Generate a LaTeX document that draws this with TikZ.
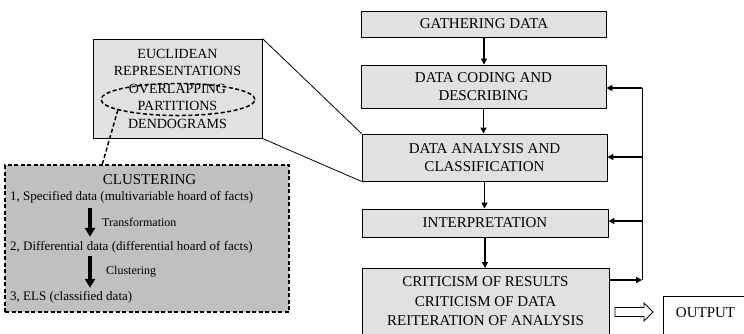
\documentclass[tikz,border=0pt]{standalone}
\usepackage{fontspec}
\setmainfont{Liberation Serif}
\usetikzlibrary{arrows.meta,shapes.geometric}
\definecolor{lgray}{RGB}{225,225,225}
\definecolor{dgray}{RGB}{192,192,192}
\begin{document}
\begin{tikzpicture}[x=1pt,y=-1pt,
  rbox/.style={draw, line width=0.9pt, fill=lgray, inner sep=0pt, align=center,
    font=\fontsize{15}{18}\selectfont, minimum width=245pt},
  flow/.style={line width=1.5pt, -{Triangle[length=6pt,width=6pt]}},
  fb/.style={line width=1.6pt, -{Triangle[length=6pt,width=6pt]}},
  dsh/.style={line width=1.5pt, dash pattern=on 4pt off 2.5pt},
  bigarr/.style={line width=3.5pt, -{Triangle[length=9pt,width=10pt]}},
  item/.style={anchor=west, inner sep=0pt, font=\fontsize{13}{15}\selectfont},
  lab/.style={anchor=west, inner sep=0pt, font=\fontsize{12}{14}\selectfont},
  thinln/.style={line width=0.8pt}
]
\useasboundingbox (0,0) rectangle (744,333);
\clip (0,0) rectangle (744,333);

% right column
\node[rbox, minimum height=26pt] (gath) at (484,24) {GATHERING DATA};
\node[rbox, minimum height=43pt] (cod) at (483.5,86.5) {DATA CODING AND\\DESCRIBING};
\node[rbox, minimum height=47pt] (ana) at (484.5,157.5) {DATA ANALYSIS AND\\CLASSIFICATION};
\node[rbox, minimum height=28pt, minimum width=246pt] (int) at (485,223) {INTERPRETATION};
\node[rbox, minimum height=66pt, minimum width=247pt, font=\fontsize{15}{19.5}\selectfont] (crit) at (485.5,301.5)
  {CRITICISM OF RESULTS\\CRITICISM OF DATA\\REITERATION OF ANALYSIS};

\draw[flow] (gath.south) -- (gath.south |- cod.north);
\draw[flow] (cod.south) -- (cod.south |- ana.north);
\draw[flow] (ana.south) -- (ana.south |- int.north);
\draw[flow] (int.south) -- (int.south |- crit.north);

% feedback loop
\coordinate (f1) at (642,88);
\coordinate (f2) at (642,157);
\coordinate (f3) at (642,221);
\coordinate (f4) at (642,280);
\draw[thinln] (f1) -- (f4);
\draw[fb] (f1) -- (f1 -| cod.east);
\draw[fb] (f2) -- (f2 -| ana.east);
\draw[fb] (f3) -- (f3 -| int.east);
\draw[fb] (f4 -| crit.east) -- (f4);

% output
\node[draw, line width=0.9pt, fill=white, minimum width=90pt, minimum height=44pt,
  anchor=north west, inner sep=0pt] (outbox) at (663,296) {};
\node[font=\fontsize{15}{18}\selectfont, inner sep=0pt] (outtxt) at (705.5,313) {OUTPUT};
\draw[line width=0.8pt, fill=white] (615,307.5) -- (644,307.5) -- (644,303) -- (653,312)
  -- (644,321) -- (644,316.5) -- (615,316.5) -- cycle;

% left: representation box
\node[draw, line width=0.9pt, fill=lgray, minimum width=169pt, minimum height=99pt,
  inner sep=0pt, align=center, font=\fontsize{14}{17.5}\selectfont] (euc) at (177.5,88.5)
  {EUCLIDEAN\\REPRESENTATIONS\\OVERLAPPING\\PARTITIONS\\DENDOGRAMS};
\node[draw, ellipse, dsh, minimum width=154pt, minimum height=32pt, inner sep=0pt] (ell) at (178,99.5) {};
\draw[thinln] (euc.north east) -- (ana.north west);
\draw[thinln] (euc.south east) -- (ana.south west);

% clustering box
\node[draw, dsh, fill=dgray, minimum width=284pt, minimum height=147pt, inner sep=0pt] (clu) at (147,238.5) {};
\draw[dsh] (ell.190) -- ([xshift=98pt]clu.north west);

\node[font=\fontsize{15}{18}\selectfont, inner sep=0pt] (ct) at (149.5,180) {CLUSTERING};
\node[item] (c1) at (10,197) {1, Specified data (multivariable hoard of facts)};
\node[item] (c2) at (10,247) {2, Differential data (differential hoard of facts)};
\node[item] (c3) at (10,297) {3, ELS (classified data)};
\node[lab] (t1) at (102,222) {Transformation};
\node[lab] (t2) at (106,272) {Clustering};
\coordinate (ax) at (90,0);
\draw[bigarr] ([yshift=-5pt]c1.south -| ax) -- ([yshift=4pt]c2.north -| ax);
\draw[bigarr] ([yshift=-3pt]c2.south -| ax) -- ([yshift=3pt]c3.north -| ax);
\end{tikzpicture}
\end{document}
